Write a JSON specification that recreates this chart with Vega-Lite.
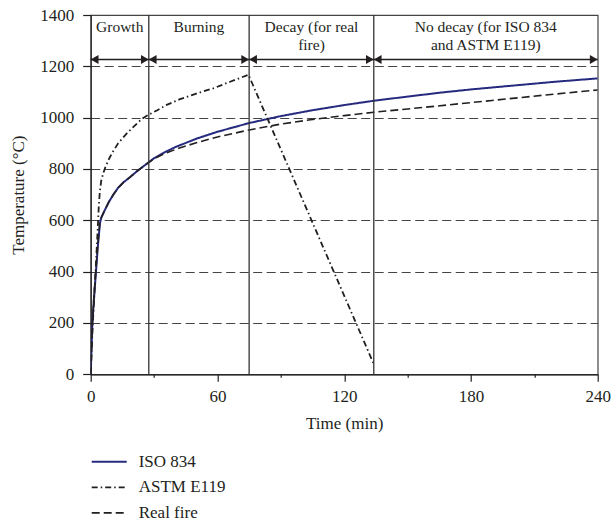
{
  "$schema": "https://vega.github.io/schema/vega-lite/v6.json",
  "width": 507,
  "height": 359.3,
  "autosize": "none",
  "padding": {"left": 90.7, "top": 15, "right": 15.3, "bottom": 148.7},
  "background": "white",
  "config": {
    "font": "Liberation Serif",
    "view": {"stroke": "#444", "strokeWidth": 1.2},
    "axis": {
      "labelFont": "Liberation Serif",
      "titleFont": "Liberation Serif",
      "labelFontSize": 17,
      "titleFontSize": 17,
      "titleFontWeight": "normal",
      "labelColor": "#231f20",
      "titleColor": "#231f20",
      "domainColor": "#231f20",
      "tickColor": "#231f20",
      "domainWidth": 1.2,
      "tickWidth": 1.2
    }
  },
  "datasets": {
    "curves": [
      {"t": 0, "temp": 0, "series": "ISO 834"},
      {"t": 0.4, "temp": 100, "series": "ISO 834"},
      {"t": 0.8, "temp": 200, "series": "ISO 834"},
      {"t": 1.6, "temp": 300, "series": "ISO 834"},
      {"t": 2.5, "temp": 400, "series": "ISO 834"},
      {"t": 3.4, "temp": 500, "series": "ISO 834"},
      {"t": 4.4, "temp": 590, "series": "ISO 834"},
      {"t": 5, "temp": 610, "series": "ISO 834"},
      {"t": 6, "temp": 628, "series": "ISO 834"},
      {"t": 7, "temp": 645, "series": "ISO 834"},
      {"t": 8.5, "temp": 670, "series": "ISO 834"},
      {"t": 10.7, "temp": 700, "series": "ISO 834"},
      {"t": 13, "temp": 727, "series": "ISO 834"},
      {"t": 15.5, "temp": 748, "series": "ISO 834"},
      {"t": 18.6, "temp": 768, "series": "ISO 834"},
      {"t": 22, "temp": 792, "series": "ISO 834"},
      {"t": 26.5, "temp": 820, "series": "ISO 834"},
      {"t": 30, "temp": 842, "series": "ISO 834"},
      {"t": 35, "temp": 865, "series": "ISO 834"},
      {"t": 40, "temp": 885, "series": "ISO 834"},
      {"t": 50, "temp": 918, "series": "ISO 834"},
      {"t": 60, "temp": 945, "series": "ISO 834"},
      {"t": 75, "temp": 979, "series": "ISO 834"},
      {"t": 90, "temp": 1006, "series": "ISO 834"},
      {"t": 105, "temp": 1029, "series": "ISO 834"},
      {"t": 120, "temp": 1049, "series": "ISO 834"},
      {"t": 135, "temp": 1067, "series": "ISO 834"},
      {"t": 150, "temp": 1082, "series": "ISO 834"},
      {"t": 165, "temp": 1097, "series": "ISO 834"},
      {"t": 180, "temp": 1110, "series": "ISO 834"},
      {"t": 200, "temp": 1125, "series": "ISO 834"},
      {"t": 220, "temp": 1140, "series": "ISO 834"},
      {"t": 240, "temp": 1153, "series": "ISO 834"},

      {"t": 0, "temp": 0, "series": "ASTM E119"},
      {"t": 1, "temp": 200, "series": "ASTM E119"},
      {"t": 2.3, "temp": 400, "series": "ASTM E119"},
      {"t": 3.4, "temp": 580, "series": "ASTM E119"},
      {"t": 3.8, "temp": 650, "series": "ASTM E119"},
      {"t": 4.3, "temp": 710, "series": "ASTM E119"},
      {"t": 5, "temp": 755, "series": "ASTM E119"},
      {"t": 6, "temp": 785, "series": "ASTM E119"},
      {"t": 7, "temp": 808, "series": "ASTM E119"},
      {"t": 9, "temp": 845, "series": "ASTM E119"},
      {"t": 10.7, "temp": 870, "series": "ASTM E119"},
      {"t": 13, "temp": 900, "series": "ASTM E119"},
      {"t": 17.2, "temp": 940, "series": "ASTM E119"},
      {"t": 21, "temp": 970, "series": "ASTM E119"},
      {"t": 24.2, "temp": 995, "series": "ASTM E119"},
      {"t": 27.5, "temp": 1012, "series": "ASTM E119"},
      {"t": 31.3, "temp": 1028, "series": "ASTM E119"},
      {"t": 36, "temp": 1050, "series": "ASTM E119"},
      {"t": 42.3, "temp": 1072, "series": "ASTM E119"},
      {"t": 50, "temp": 1094, "series": "ASTM E119"},
      {"t": 58, "temp": 1114, "series": "ASTM E119"},
      {"t": 66, "temp": 1140, "series": "ASTM E119"},
      {"t": 74.7, "temp": 1167, "series": "ASTM E119"},
      {"t": 134, "temp": 40, "series": "ASTM E119"},

      {"t": 0, "temp": 0, "series": "Real fire"},
      {"t": 0.4, "temp": 100, "series": "Real fire"},
      {"t": 0.8, "temp": 200, "series": "Real fire"},
      {"t": 1.5, "temp": 300, "series": "Real fire"},
      {"t": 2.4, "temp": 400, "series": "Real fire"},
      {"t": 3.3, "temp": 500, "series": "Real fire"},
      {"t": 4.3, "temp": 590, "series": "Real fire"},
      {"t": 5, "temp": 610, "series": "Real fire"},
      {"t": 6, "temp": 628, "series": "Real fire"},
      {"t": 7, "temp": 645, "series": "Real fire"},
      {"t": 8.5, "temp": 670, "series": "Real fire"},
      {"t": 10.7, "temp": 700, "series": "Real fire"},
      {"t": 13, "temp": 727, "series": "Real fire"},
      {"t": 15.5, "temp": 748, "series": "Real fire"},
      {"t": 18.6, "temp": 768, "series": "Real fire"},
      {"t": 22, "temp": 792, "series": "Real fire"},
      {"t": 26.5, "temp": 820, "series": "Real fire"},
      {"t": 30, "temp": 840, "series": "Real fire"},
      {"t": 35, "temp": 860, "series": "Real fire"},
      {"t": 42, "temp": 882, "series": "Real fire"},
      {"t": 50, "temp": 902, "series": "Real fire"},
      {"t": 60, "temp": 925, "series": "Real fire"},
      {"t": 75, "temp": 952, "series": "Real fire"},
      {"t": 90, "temp": 975, "series": "Real fire"},
      {"t": 105, "temp": 993, "series": "Real fire"},
      {"t": 120, "temp": 1008, "series": "Real fire"},
      {"t": 134, "temp": 1021, "series": "Real fire"},
      {"t": 160, "temp": 1042, "series": "Real fire"},
      {"t": 190, "temp": 1067, "series": "Real fire"},
      {"t": 215, "temp": 1088, "series": "Real fire"},
      {"t": 240, "temp": 1108, "series": "Real fire"}
    ],
    "phases": [
      {"phase": "Growth", "start": 0, "end": 27.5, "mid": 13.75},
      {"phase": "Burning", "start": 27.5, "end": 75, "mid": 51.25},
      {"phase": "Decay (for real\nfire)", "start": 75, "end": 134, "mid": 104.5},
      {"phase": "No decay (for ISO 834\nand ASTM E119)", "start": 134, "end": 240, "mid": 187}
    ]
  },
  "layer": [
    {
      "data": {"name": "curves"},
      "mark": {"type": "line", "strokeCap": "butt", "clip": true},
      "encoding": {
        "x": {
          "field": "t", "type": "quantitative",
          "scale": {"domain": [0, 240], "nice": false, "zero": false},
          "axis": {
            "title": "Time (min)",
            "values": [0, 30, 60, 90, 120, 150, 180, 210, 240],
            "labelExpr": "datum.value % 60 == 0 ? datum.label : ''",
            "tickSize": 7,
            "tickDash": {"condition": {"test": "datum.value % 60 == 0", "value": [7, 0]}, "value": [3, 20]},
            "grid": false,
            "labelPadding": 7,
            "titlePadding": 11,
            "labelFlush": false,
            "labelOverlap": false
          }
        },
        "y": {
          "field": "temp", "type": "quantitative",
          "scale": {"domain": [0, 1400], "nice": false},
          "axis": {
            "title": "Temperature (°C)",
            "values": [0, 100, 200, 300, 400, 500, 600, 700, 800, 900, 1000, 1100, 1200, 1300, 1400],
            "labelExpr": "datum.value % 200 == 0 ? datum.label : ''",
            "format": "d",
            "tickSize": 8,
            "tickDash": {"condition": {"test": "datum.value % 200 == 0", "value": [8, 0]}, "value": [4, 20]},
            "labelPadding": 9,
            "titlePadding": 12,
            "labelOverlap": false,
            "grid": true,
            "gridDash": [9, 4.5],
            "gridColor": "#444",
            "gridWidth": 1,
            "gridOpacity": {"condition": {"test": "datum.value % 200 == 0 && datum.value > 0 && datum.value < 1400", "value": 1}, "value": 0}
          }
        },
        "color": {
          "field": "series", "type": "nominal",
          "scale": {"domain": ["ISO 834", "ASTM E119", "Real fire"], "range": ["#262a7f", "#231f20", "#231f20"]},
          "legend": {
            "orient": "none", "legendX": 0, "legendY": 438.2, "title": null,
            "symbolType": "stroke", "symbolSize": 1225, "symbolStrokeWidth": 2,
            "labelFont": "Liberation Serif", "labelFontSize": 17, "labelColor": "#231f20",
            "labelOffset": 11, "clipHeight": 17, "rowPadding": 7.6, "padding": 0
          }
        },
        "strokeDash": {
          "field": "series", "type": "nominal",
          "scale": {"domain": ["ISO 834", "ASTM E119", "Real fire"], "range": [[1, 0], [6, 3, 1.5, 3], [8, 4]]},
          "legend": {
            "orient": "none", "legendX": 0, "legendY": 438.2, "title": null,
            "symbolType": "stroke", "symbolSize": 1225, "symbolStrokeWidth": 2,
            "labelFont": "Liberation Serif", "labelFontSize": 17, "labelColor": "#231f20",
            "labelOffset": 11, "clipHeight": 17, "rowPadding": 7.6, "padding": 0
          }
        },
        "strokeWidth": {
          "field": "series", "type": "nominal",
          "scale": {"domain": ["ISO 834", "ASTM E119", "Real fire"], "range": [2, 1.6, 2]},
          "legend": null
        }
      }
    },
    {
      "data": {"name": "phases"},
      "transform": [{"filter": "datum.end < 240"}],
      "mark": {"type": "rule", "color": "#333", "strokeWidth": 1.3},
      "encoding": {
        "x": {"field": "end", "type": "quantitative"}
      }
    },
    {
      "data": {"name": "phases"},
      "mark": {"type": "rule", "color": "#231f20", "strokeWidth": 1.5},
      "encoding": {
        "x": {"field": "start", "type": "quantitative"},
        "x2": {"field": "end"},
        "y": {"datum": 1227, "type": "quantitative"}
      }
    },
    {
      "data": {"name": "phases"},
      "mark": {"type": "point", "shape": "triangle-left", "filled": true, "color": "#231f20", "size": 81, "opacity": 1, "strokeWidth": 0, "xOffset": 3.9},
      "encoding": {
        "x": {"field": "start", "type": "quantitative"},
        "y": {"datum": 1227, "type": "quantitative"}
      }
    },
    {
      "data": {"name": "phases"},
      "mark": {"type": "point", "shape": "triangle-right", "filled": true, "color": "#231f20", "size": 81, "opacity": 1, "strokeWidth": 0, "xOffset": -3.9},
      "encoding": {
        "x": {"field": "end", "type": "quantitative"},
        "y": {"datum": 1227, "type": "quantitative"}
      }
    },
    {
      "data": {"name": "phases"},
      "mark": {"type": "text", "font": "Liberation Serif", "fontSize": 15.5, "color": "#231f20", "baseline": "top", "align": "center", "dy": 5, "lineBreak": "\n", "lineHeight": 18},
      "encoding": {
        "x": {"field": "mid", "type": "quantitative"},
        "y": {"datum": 1400, "type": "quantitative"},
        "text": {"field": "phase"}
      }
    }
  ]
}
